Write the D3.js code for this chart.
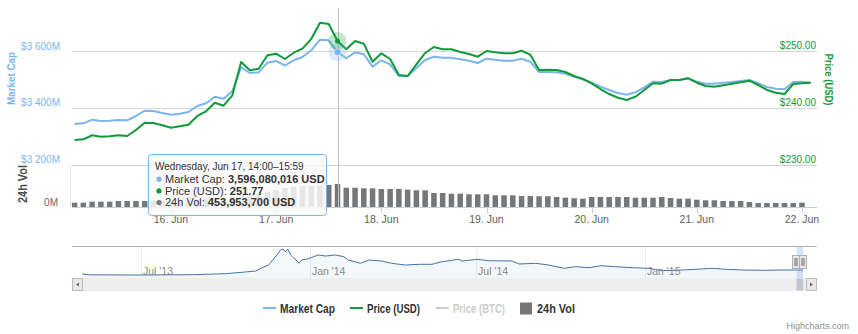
<!DOCTYPE html>
<html><head><meta charset="utf-8">
<script src="https://cdn.jsdelivr.net/npm/d3@7"></script>
<style>
html,body{margin:0;padding:0;background:#fff;}
svg{display:block;font-family:"Liberation Sans",Arial,sans-serif;}
</style></head><body>
<svg id="c" width="858" height="334"></svg>
<script>
// ---------- data ----------
const startTime = Date.UTC(2015, 5, 15, 2); // first 2-hour group
const stepHours = 2;
const marketCap = [3342.7,3345.2,3357.9,3353.3,3354.4,3356.8,3355.8,3370.9,3389.6,3388.6,
  3381.5,3375.5,3379.0,3385.0,3406.2,3415.7,3439.0,3431.9,3459.0,3542.6,
  3522.5,3524.9,3558.8,3564.8,3549.6,3567.2,3578.9,3602.5,3639.8,3637.7,
  3596.080016,3574.3,3595.4,3588.4,3544.7,3567.2,3553.1,3511.9,3510.8,3540.1,
  3568.3,3579.6,3576.4,3576.4,3570.8,3565.8,3557.7,3572.9,3569.3,3565.8,
  3565.8,3572.9,3562.3,3526.0,3526.0,3524.9,3520.0,3509.4,3500.3,3488.3,
  3474.2,3462.6,3452.0,3446.0,3454.5,3472.1,3491.8,3490.8,3497.8,3497.8,
  3503.8,3491.8,3484.8,3484.8,3488.3,3490.8,3494.3,3497.8,3486.2,3473.1,
  3467.1,3465.0,3490.8,3491.8,3488.3]; // $M
const priceUSD = [234.32,234.44,235.15,234.90,234.97,235.15,235.02,236.08,237.37,237.31,
  236.91,236.48,236.73,237.01,238.55,239.37,240.89,240.36,242.19,248.06,
  246.60,246.88,249.24,249.52,248.59,249.70,250.41,252.11,254.99,254.76,
  251.77,250.30,251.76,251.29,248.11,249.59,248.59,245.77,245.59,247.66,
  249.65,250.70,250.30,250.30,249.82,249.47,249.00,250.00,249.77,249.59,
  249.59,250.05,249.35,246.65,246.70,246.65,246.30,245.59,245.07,244.31,
  243.30,242.42,241.77,241.37,241.95,243.13,244.31,244.24,244.89,244.89,
  245.19,244.41,243.83,243.71,243.96,244.24,244.48,244.77,244.01,243.13,
  242.65,242.42,244.19,244.31,244.41];
const volume24h = [85,85,105,105,105,118,118,118,118,125,
  125,130,130,135,150,160,175,185,200,235,
  235,240,300,335,375,395,410,415,420,434,
  453.9537,380,380,368,368,355,355,355,341,329,
  329,276,276,262,262,250,250,250,230,230,
  230,217,217,211,211,197,185,172,164,197,
  197,197,197,197,183,183,183,197,177,164,
  164,144,132,132,118,118,118,99,79,79,
  79,79,79,85]; // $M
const capTicks = [3200, 3400, 3600];
const priceTicks = [230, 240, 250];
const volTicks = [0];
const dayTicks = [16,17,18,19,20,21,22];
// navigator history (market cap, $B)
const navDates = ["2013-04-28","2013-05-06","2013-07-01","2013-08-26","2013-10-01","2013-10-19","2013-11-03","2013-11-10","2013-11-17","2013-11-23","2013-11-26","2013-11-30","2013-12-03","2013-12-05","2013-12-08","2013-12-11","2013-12-14","2013-12-18","2013-12-20","2013-12-23","2013-12-29","2014-01-05","2014-01-10","2014-01-18","2014-01-29","2014-02-07","2014-02-12","2014-02-25","2014-03-06","2014-03-20","2014-03-31","2014-04-15","2014-04-30","2014-05-14","2014-05-25","2014-06-12","2014-06-16","2014-07-02","2014-07-15","2014-08-09","2014-08-17","2014-09-04","2014-09-18","2014-10-05","2014-10-17","2014-11-01","2014-11-14","2014-11-30","2014-12-18","2015-01-05","2015-01-20","2015-02-11","2015-03-04","2015-03-15","2015-03-30","2015-04-17","2015-05-12","2015-05-30","2015-06-14","2015-06-22"];
const navValues = [1.5,1.1,1.0,1.15,1.65,2.35,3.0,4.65,6.0,9.35,11.0,13.5,14.0,12.65,13.85,11.0,9.65,8.0,6.85,8.5,9.0,10.15,11.0,10.5,11.0,10.15,8.5,6.85,8.5,8.0,6.85,6.0,6.35,6.35,7.65,8.85,8.0,8.85,8.15,8.0,6.5,6.85,6.0,4.35,5.15,4.65,5.65,5.15,4.65,4.35,3.15,3.5,4.0,4.35,3.85,3.5,3.35,3.5,3.5,3.49];
const navTicks = ["2013-07-01","2014-01-01","2014-07-01","2015-01-01"];
const navTickLabels = ["Jul '13","Jan '14","Jul '14","Jan '15"];
const legendItems = ["Market Cap","Price (USD)","Price (BTC)","24h Vol"];

// ---------- setup ----------
const capColor = "#7cb5ec", priceColor = "#109a3a", volColor = "#777777";
const svg = d3.select("#c");
const times = marketCap.map((_, i) => new Date(startTime + i * stepHours * 3600e3));
const L = 72, R = 817;
const x = d3.scaleUtc().domain([new Date(Date.UTC(2015,5,16)), new Date(Date.UTC(2015,5,22))]).range([171, 802]);
const yCap = d3.scaleLinear().domain([3200, 3600]).range([164.5, 51]);
const yPrice = d3.scaleLinear().domain([230, 250]).range([164.5, 51]);
const yVol = d3.scaleLinear().domain([0, 837]).range([207, 164.5]);

// grid
const g = svg.append("g");
g.selectAll("line.grid").data(capTicks).join("line")
  .attr("x1", L).attr("x2", R).attr("y1", d => Math.round(yCap(d)) + 0.5).attr("y2", d => Math.round(yCap(d)) + 0.5)
  .attr("stroke", d => d === 3200 ? "#cfcfcf" : "#d8d8d8").attr("stroke-width", 1);
// left labels
g.selectAll("text.cap").data(capTicks).join("text")
  .attr("x", 60).attr("y", d => yCap(d) - 1.5).attr("text-anchor", "end")
  .attr("font-size", 10).attr("fill", capColor)
  .text(d => "$" + d3.format(",")(d).replace(",", " ") + "M");
// right labels
g.selectAll("text.pr").data(priceTicks).join("text")
  .attr("x", 816).attr("y", d => yPrice(d) - 2).attr("text-anchor", "end")
  .attr("font-size", 10).attr("fill", priceColor)
  .text(d => "$" + d3.format(".2f")(d));
// volume labels
g.selectAll("text.vol").data(volTicks).join("text")
  .attr("x", 58).attr("y", d => yVol(d) - 1.5).attr("text-anchor", "end")
  .attr("font-size", 10).attr("fill", "#666").text(d => d + "M");
// volume pane left edge
g.append("line").attr("x1", 70.5).attr("x2", 70.5).attr("y1", 164.5).attr("y2", 207).attr("stroke", "#dfe6ee");

// axis titles
svg.append("text").attr("transform", "translate(15,78.5) rotate(-90)").attr("text-anchor", "middle")
  .attr("font-size", 11).attr("font-weight", "bold").attr("fill", capColor)
  .attr("textLength", 53).attr("lengthAdjust", "spacingAndGlyphs").text("Market Cap");
svg.append("text").attr("transform", "translate(26.5,184) rotate(-90)").attr("text-anchor", "middle")
  .attr("font-size", 12).attr("font-weight", "bold").attr("fill", "#4d4d4d")
  .attr("textLength", 38).attr("lengthAdjust", "spacingAndGlyphs").text("24h Vol");
svg.append("text").attr("transform", "translate(825,79.5) rotate(90)").attr("text-anchor", "middle")
  .attr("font-size", 11).attr("font-weight", "bold").attr("fill", priceColor)
  .attr("textLength", 52).attr("lengthAdjust", "spacingAndGlyphs").text("Price (USD)");

// volume bars
svg.append("g").selectAll("rect").data(volume24h).join("rect")
  .attr("x", (d, i) => x(times[i]) - 2.75).attr("width", 5.5)
  .attr("y", d => yVol(d)).attr("height", d => yVol(0) - yVol(d)).attr("fill", volColor);

// x axis
const xa = svg.append("g");
xa.append("line").attr("x1", L).attr("x2", R).attr("y1", 207.5).attr("y2", 207.5).attr("stroke", "#c0d0e0");
const dayDates = dayTicks.map(d => new Date(Date.UTC(2015, 5, d)));
xa.selectAll("line.t").data(dayDates).join("line")
  .attr("x1", d => Math.round(x(d)) + 0.5).attr("x2", d => Math.round(x(d)) + 0.5)
  .attr("y1", 207.5).attr("y2", 213).attr("stroke", "#c0d0e0");
const fmt = d3.utcFormat("%-d. %b");
xa.selectAll("text").data(dayDates).join("text")
  .attr("x", d => x(d)).attr("y", 222.5).attr("text-anchor", "middle")
  .attr("font-size", 10.5).attr("fill", "#606060").text(d => fmt(d));

// crosshair
const hi = 30;
svg.append("line").attr("x1", Math.round(x(times[hi])) + 0.5).attr("x2", Math.round(x(times[hi])) + 0.5)
  .attr("y1", 8).attr("y2", 207).attr("stroke", "#c0c0c0");

// lines
const lineCap = d3.line().x((d, i) => x(times[i])).y(d => yCap(d));
const linePrice = d3.line().x((d, i) => x(times[i])).y(d => yPrice(d));
svg.append("path").attr("d", lineCap(marketCap)).attr("fill", "none").attr("stroke", capColor).attr("stroke-width", 2).attr("stroke-linejoin", "round");
svg.append("path").attr("d", linePrice(priceUSD)).attr("fill", "none").attr("stroke", priceColor).attr("stroke-width", 2).attr("stroke-linejoin", "round");

// hover markers
const hx = x(times[hi]);
svg.append("circle").attr("cx", hx).attr("cy", yCap(marketCap[hi])).attr("r", 9).attr("fill", capColor).attr("opacity", 0.25);
svg.append("circle").attr("cx", hx).attr("cy", yPrice(priceUSD[hi])).attr("r", 9).attr("fill", priceColor).attr("opacity", 0.25);
svg.append("circle").attr("cx", hx).attr("cy", yCap(marketCap[hi])).attr("r", 3.5).attr("fill", capColor).attr("stroke", "#fff").attr("stroke-width", 0.5);
svg.append("circle").attr("cx", hx).attr("cy", yPrice(priceUSD[hi])).attr("r", 2.5).attr("fill", priceColor);

// tooltip
const tt = svg.append("g");
tt.append("rect").attr("x", 148.5).attr("y", 154.5).attr("width", 178).attr("height", 61).attr("rx", 3)
  .attr("fill", "rgba(249,249,249,0.85)").attr("stroke", capColor);
tt.append("text").attr("x", 155).attr("y", 169.5).attr("font-size", 10).attr("fill", "#333")
  .text("Wednesday, Jun 17, 14:00\u201315:59");
const ttRows = [
  {c: capColor, label: "Market Cap: ", val: d3.format(",")(Math.round(marketCap[hi] * 1e6)) + " USD"},
  {c: priceColor, label: "Price (USD): ", val: d3.format(".2f")(priceUSD[hi])},
  {c: volColor, label: "24h Vol: ", val: d3.format(",")(Math.round(volume24h[hi] * 1e6)) + " USD"}
];
ttRows.forEach((r, i) => {
  const yy = 183 + i * 11.7;
  tt.append("circle").attr("cx", 159).attr("cy", yy - 3.8).attr("r", 2.6).attr("fill", r.c);
  const t = tt.append("text").attr("x", 165).attr("y", yy).attr("font-size", 11).attr("fill", "#333");
  t.append("tspan").text(r.label);
  t.append("tspan").attr("font-weight", "bold").text(r.val);
});

// ---------- navigator ----------
const nav = svg.append("g");
const nd = navDates.map(s => new Date(s + "T00:00:00Z"));
const xn = d3.scaleUtc().domain([new Date("2013-07-01T00:00:00Z"), new Date("2015-01-01T00:00:00Z")]).range([141, 645]);
const yn = d3.scaleLinear().domain([0, 14]).range([277, 249]);
nav.append("line").attr("x1", L).attr("x2", R).attr("y1", 246.5).attr("y2", 246.5).attr("stroke", "#b2b1b6");
const ntd = navTicks.map(s => new Date(s + "T00:00:00Z"));
nav.selectAll("line.g").data(ntd).join("line")
  .attr("x1", d => Math.round(xn(d)) + 0.5).attr("x2", d => Math.round(xn(d)) + 0.5)
  .attr("y1", 247).attr("y2", 278).attr("stroke", "#eeeeee");
const area = d3.area().x((d, i) => xn(nd[i])).y0(278).y1(d => yn(d));
const nline = d3.line().x((d, i) => xn(nd[i])).y(d => yn(d));
nav.append("path").attr("d", area(navValues)).attr("fill", "rgba(69,114,167,0.06)");
nav.append("path").attr("d", nline(navValues)).attr("fill", "none").attr("stroke", "#4572a7").attr("stroke-width", 1);
nav.selectAll("text").data(ntd).join("text")
  .attr("x", d => xn(d) + 2).attr("y", 275).attr("font-size", 10.5).attr("fill", "#888")
  .text((d, i) => navTickLabels[i]);
// selection
const s0 = xn(new Date("2015-06-15T00:00:00Z")), s1 = xn(new Date("2015-06-22T04:00:00Z"));
nav.append("rect").attr("x", s0).attr("y", 247).attr("width", s1 - s0).attr("height", 31).attr("fill", "rgba(128,179,236,0.35)");
[s0, s1].forEach(sx => {
  const hx0 = Math.round(sx) - 3.5;
  nav.append("rect").attr("x", hx0).attr("y", 255.5).attr("width", 7).attr("height", 13).attr("fill", "#ebe7e8").attr("stroke", "#b2b1b6");
  nav.append("line").attr("x1", hx0 + 2.5).attr("x2", hx0 + 2.5).attr("y1", 258).attr("y2", 266).attr("stroke", "#666");
  nav.append("line").attr("x1", hx0 + 4.5).attr("x2", hx0 + 4.5).attr("y1", 258).attr("y2", 266).attr("stroke", "#666");
});
// scrollbar
nav.append("rect").attr("x", L + 0.5).attr("y", 278.5).attr("width", R - L - 1).attr("height", 12).attr("fill", "#eeeeee").attr("stroke", "#eeeeee");
nav.append("rect").attr("x", s0).attr("y", 278.5).attr("width", s1 - s0).attr("height", 12).attr("fill", "#bfc8d1");
nav.append("rect").attr("x", L + 0.5).attr("y", 278.5).attr("width", 10).attr("height", 12).attr("fill", "#ebe7e8").attr("stroke", "#bbb");
nav.append("path").attr("d", `M${L+4},284.5 L${L+7},282.5 L${L+7},286.5 Z`).attr("fill", "#666");
nav.append("rect").attr("x", R - 10.5).attr("y", 278.5).attr("width", 10).attr("height", 12).attr("fill", "#ebe7e8").attr("stroke", "#bbb");
nav.append("path").attr("d", `M${R-4},284.5 L${R-7},282.5 L${R-7},286.5 Z`).attr("fill", "#666");

// ---------- legend ----------
const lg = svg.append("g").attr("font-size", 12).attr("font-weight", "bold");
const legX = [263, 350, 436, 520];
const legW = [55, 53, 52, 38];
const legCol = [capColor, priceColor, "#cccccc", volColor];
legendItems.forEach((name, i) => {
  const lx = legX[i];
  if (i < 3) lg.append("line").attr("x1", lx).attr("x2", lx + 13).attr("y1", 308).attr("y2", 308).attr("stroke", legCol[i]).attr("stroke-width", 2);
  else lg.append("rect").attr("x", lx).attr("y", 302.5).attr("width", 12).attr("height", 12).attr("fill", legCol[i]);
  lg.append("text").attr("x", lx + 17).attr("y", 312.5).attr("fill", i === 2 ? "#cccccc" : "#333")
    .attr("textLength", legW[i]).attr("lengthAdjust", "spacingAndGlyphs").text(name);
});

// credits
svg.append("text").attr("x", 849).attr("y", 329).attr("text-anchor", "end").attr("font-size", 9).attr("fill", "#909090").text("Highcharts.com");
</script>
</body></html>
